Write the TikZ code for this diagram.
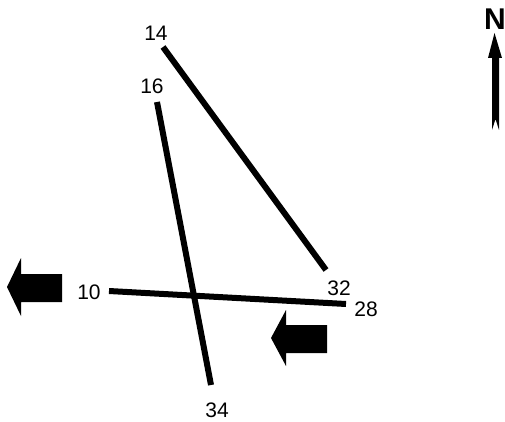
\documentclass[tikz,border=0pt]{standalone}
\usepackage{fontspec}
\setmainfont{Liberation Sans}
\usepackage{tikz}
\usetikzlibrary{positioning}
\tikzstyle{fault}=[line width=6pt]
\tikzstyle{lab}=[inner sep=0pt, font=\fontsize{21}{21}\selectfont]
\tikzstyle{northlab}=[inner sep=0pt, font=\fontsize{30}{30}\selectfont\bfseries]
\tikzstyle{motion}=[fill=black]
\begin{document}
\begin{tikzpicture}[x=1pt, y=-1pt]
    \useasboundingbox (0,0) rectangle (505,422);

    \node[lab] (l14) at (156,33) {14};
    \node[lab] (l16) at (152,86) {16};
    \node[lab] (l10) at (89,292) {10};
    \node[lab] (l32) at (339,288) {32};
    \node[lab] (l28) at (366,309) {28};
    \node[lab] (l34) at (217,410) {34};
    \node[northlab] (north) at (495,19) {N};

    \coordinate (a14) at (163,47);
    \coordinate (a32) at (326,270);
    \coordinate (b16) at (157,102);
    \coordinate (b34) at (211,385);
    \coordinate (c10) at (109,291);
    \coordinate (c28) at (346,304);

    \draw[fault] (a14) -- (a32);
    \draw[fault] (b16) -- (b34);
    \draw[fault] (c10) -- (c28);

    % motion arrows
    \fill[motion] (7,287) -- (21,258) -- (21,274) -- (62,274) -- (62,302) -- (21,302) -- (21,316) -- cycle;
    \fill[motion] (271,338) -- (286,310) -- (286,325) -- (327,325) -- (327,353) -- (286,353) -- (286,366) -- cycle;

    % north arrow
    \fill[motion] (494.5,33) -- (502,58) -- (499,58) -- (499,130) -- (495.5,119) -- (492,130) -- (492,58) -- (488,58) -- cycle;
\end{tikzpicture}
\end{document}
